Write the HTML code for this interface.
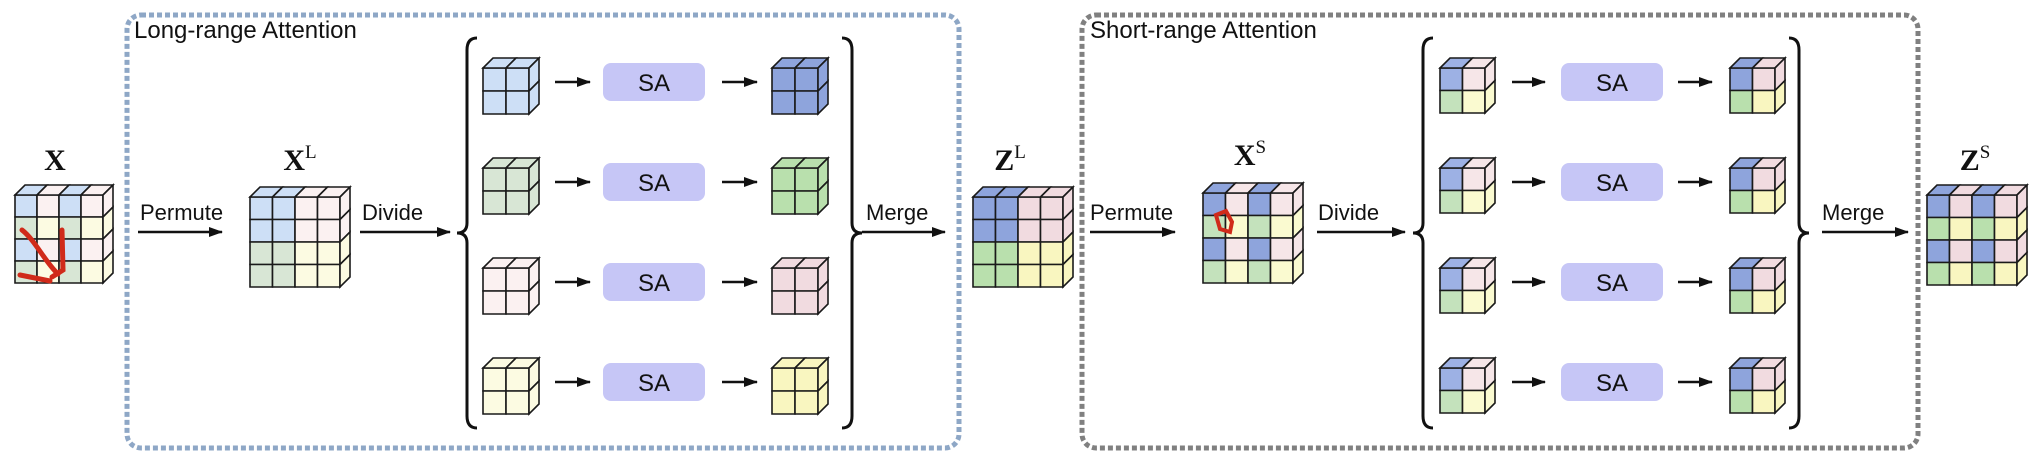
<!DOCTYPE html>
<html><head><meta charset="utf-8"><style>
html,body{margin:0;padding:0;background:#fff;width:2032px;height:462px;overflow:hidden}
svg text{font-family:"Liberation Sans",sans-serif}
</style></head><body>
<svg id="s" width="2032" height="462" xmlns="http://www.w3.org/2000/svg">
<defs><marker id="ah" markerWidth="14" markerHeight="10" refX="13" refY="5" orient="auto" markerUnits="userSpaceOnUse"><path d="M0,0 L14,5 L0,10 z" fill="#111"/></marker></defs>
<rect x="127" y="15" width="832" height="433" rx="14" fill="none" stroke="#8ea7c6" stroke-width="5" stroke-dasharray="5,3"/>
<rect x="1082" y="15" width="836" height="433" rx="14" fill="none" stroke="#808080" stroke-width="5" stroke-dasharray="5,3"/>
<text x="134" y="38" font-size="24" fill="#111">Long-range Attention</text>
<text x="1090" y="38" font-size="24" fill="#111">Short-range Attention</text>
<g id="g"></g>
</svg>
<script>
var g=document.getElementById('g'),h='';
function P(pts,f){h+='<polygon points="'+pts.map(p=>p.join(',')).join(' ')+'" fill="'+f+'" stroke="#1a1a1a" stroke-width="1.6"/>';}
function cube(x,y,n,s,d,col){
 for(var r=0;r<n;r++)for(var c=0;c<n;c++)P([[x+c*s,y+r*s],[x+(c+1)*s,y+r*s],[x+(c+1)*s,y+(r+1)*s],[x+c*s,y+(r+1)*s]],col(r,c));
 for(var c=0;c<n;c++)P([[x+c*s,y],[x+(c+1)*s,y],[x+(c+1)*s+d,y-d],[x+c*s+d,y-d]],col(0,c));
 var X=x+n*s;
 for(var r=0;r<n;r++)P([[X,y+r*s],[X+d,y+r*s-d],[X+d,y+(r+1)*s-d],[X,y+(r+1)*s]],col(r,n-1));
}
function arr(x1,y,x2){h+='<line x1="'+x1+'" y1="'+y+'" x2="'+x2+'" y2="'+y+'" stroke="#111" stroke-width="2.5" marker-end="url(#ah)"/>';}
function T(x,y,t,sz,a){h+='<text x="'+x+'" y="'+y+'" font-size="'+sz+'" text-anchor="'+(a||'start')+'" fill="#111">'+t+'</text>';}
function M(x,y,b,sup){h+='<text x="'+x+'" y="'+y+'" font-size="30" font-weight="bold" text-anchor="middle" style="font-family:\'Liberation Serif\',serif" fill="#111">'+b+(sup?'<tspan font-size="19" font-weight="normal" dy="-12">'+sup+'</tspan>':'')+'</text>';}
function brace(x,y1,y2,dir){var m=(y1+y2)/2,w=10*dir;
 h+='<path d="M'+(x+w)+','+y1+' Q'+x+','+y1+' '+x+','+(y1+12)+' L'+x+','+(m-10)+' Q'+x+','+m+' '+(x-w)+','+m+' Q'+x+','+m+' '+x+','+(m+10)+' L'+x+','+(y2-12)+' Q'+x+','+y2+' '+(x+w)+','+y2+'" fill="none" stroke="#111" stroke-width="3"/>';}
function SA(x,y){h+='<rect x="'+x+'" y="'+y+'" width="102" height="38" rx="8" fill="#c6c6f6"/>';T(x+51,y+28,'SA',24,'middle');}
var B='#cddff6',Pk='#fbf1f1',Gr='#d8e6d5',Y='#fcfbe2';
var DB='#8ea4dc',DP='#f1dbe0',DG='#b9e0ad',DY='#f9f6c0';
var XB='#9db1e4',XG='#c4e2bc',XP='#f6e6e8',XY='#fafad0';
cube(15,195,4,22,10,(r,c)=>[[B,Pk],[Gr,Y]][r%2][c%2]);
M(55,170,'X');
h+='<path d="M22,230 C35,240 45,262 58,274 M62,230 L63,270 L52,277 M20,275 L50,281" fill="none" stroke="#d02a1a" stroke-width="5" stroke-linecap="round"/>';
arr(138,232,222);T(140,220,'Permute',22);
cube(250,197,4,22.5,10,(r,c)=>r<2?(c<2?B:Pk):(c<2?Gr:Y));
M(300,170,'X','L');
arr(360,232,450);T(362,220,'Divide',22);
brace(467,38,428,1);brace(852,38,428,-1);
var lin=[B,Gr,Pk,Y],lout=[DB,DG,DP,DY];
for(var i=0;i<4;i++){var ty=68+i*100;
 cube(483,ty,2,23,10,()=>lin[i]);arr(555,ty+14,590);SA(603,ty-5);arr(722,ty+14,757);cube(772,ty,2,23,10,()=>lout[i]);}
arr(862,232,945);T(866,220,'Merge',22);
cube(973,197,4,22.5,10,(r,c)=>r<2?(c<2?DB:DP):(c<2?DG:DY));
M(1010,170,'Z','L');
arr(1090,232,1175);T(1090,220,'Permute',22);
cube(1203,193,4,22.5,10,(r,c)=>[[DB,XP],[XG,XY]][r%2][c%2]);
M(1250,165,'X','S');
h+='<path d="M1216,215 L1226,211 L1232,222 L1230,232 L1220,229 z" fill="none" stroke="#d02a1a" stroke-width="4"/>';
arr(1317,232,1405);T(1318,220,'Divide',22);
brace(1423,38,428,1);brace(1799,38,428,-1);
for(var i=0;i<4;i++){var ty=68+i*100;
 cube(1440,ty,2,22.5,10,(r,c)=>[[XB,XP],[XG,XY]][r][c]);arr(1512,ty+14,1545);SA(1561,ty-5);arr(1678,ty+14,1712);cube(1730,ty,2,22.5,10,(r,c)=>[[DB,DP],[DG,DY]][r][c]);}
arr(1822,232,1908);T(1822,220,'Merge',22);
cube(1927,195,4,22.5,10,(r,c)=>[[DB,DP],[DG,DY]][r%2][c%2]);
M(1975,170,'Z','S');
g.innerHTML=h;
</script>
</body></html>
